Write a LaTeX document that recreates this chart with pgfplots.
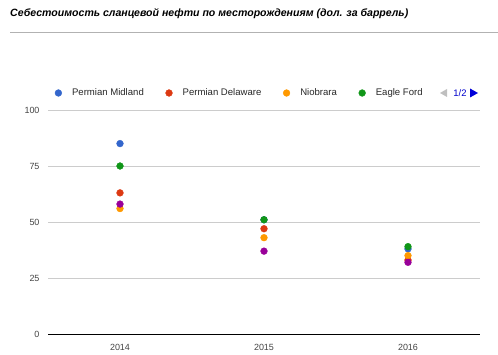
\documentclass[border=0pt]{standalone}
\usepackage{pgfplots}
\pgfplotsset{compat=1.18}
\usepackage{fontspec}
\setmainfont{Liberation Sans}
\definecolor{gblue}{HTML}{3366CC}
\definecolor{gred}{HTML}{DC3912}
\definecolor{gorange}{HTML}{FF9900}
\definecolor{ggreen}{HTML}{109618}
\definecolor{gpurple}{HTML}{990099}
\definecolor{tick}{HTML}{444444}
\definecolor{grid}{HTML}{CCCCCC}
\begin{document}
\begin{tikzpicture}
\useasboundingbox (0bp,0bp) rectangle (498bp,355bp);
\node[anchor=west, inner sep=0pt, font=\fontsize{10.6}{12}\selectfont\bfseries\itshape] at (10bp,341bp) {Себестоимость сланцевой нефти по месторождениям (дол. за баррель)};
\draw[color=black!30, line width=1bp] (10bp,322bp) -- (498bp,322bp);
% pagination
\fill[black!25] (440bp,262bp) -- (447bp,266bp) -- (447bp,258bp) -- cycle;
\node[anchor=center, inner sep=0pt, text=blue!80!black, font=\fontsize{9.5}{11}\selectfont] at (460bp,262bp) {1/2};
\fill[blue!85!black] (478bp,262bp) -- (470bp,266.5bp) -- (470bp,257.5bp) -- cycle;
\begin{axis}[
  at={(48bp,21bp)}, anchor=south west, scale only axis,
  width=432bp, height=224bp,
  xmin=-0.5, xmax=2.5, ymin=0, ymax=100,
  xtick={0,1,2}, xticklabels={2014,2015,2016},
  ytick={0,25,50,75,100},
  ymajorgrids, grid style={color=grid, line width=0.9bp},
  axis line style={draw=none},
  major tick length=0pt,
  /pgf/number format/assume math mode=true,
  tick label style={font=\fontsize{9}{10}\selectfont, text=tick},
  yticklabel style={xshift=-5bp},
  xticklabel style={yshift=-7bp},
  legend columns=4,
  legend style={at={(rel axis cs:0,1)}, anchor=west, xshift=3bp, yshift=17bp,
    draw=none, fill=none, font=\fontsize{9.6}{11}\selectfont, text=black!85,
    /tikz/every even column/.append style={column sep=19bp}},
  legend image code/.code={\draw[#1] plot coordinates {(4bp,0)}; \path (0,0) (15.5bp,0);},
  clip=false,
]
\addplot[only marks, mark=*, mark size=3.4bp, color=gblue] coordinates {(0,85) (1,51) (2,38)};
\addlegendentry{Permian Midland}
\addplot[only marks, mark=*, mark size=3.4bp, color=gred] coordinates {(0,63) (1,47) (2,33)};
\addlegendentry{Permian Delaware}
\addplot[only marks, mark=*, mark size=3.4bp, color=gorange] coordinates {(0,56) (1,43) (2,35)};
\addlegendentry{Niobrara}
\addplot[only marks, mark=*, mark size=3.4bp, color=ggreen] coordinates {(0,75) (1,51) (2,39)};
\addlegendentry{Eagle Ford}
\addplot[only marks, mark=*, mark size=3.4bp, color=gpurple, forget plot] coordinates {(0,58) (1,37) (2,32)};
\draw[black, line width=1bp] (axis cs:-0.5,0) -- (axis cs:2.5,0);
\end{axis}
\end{tikzpicture}
\end{document}
